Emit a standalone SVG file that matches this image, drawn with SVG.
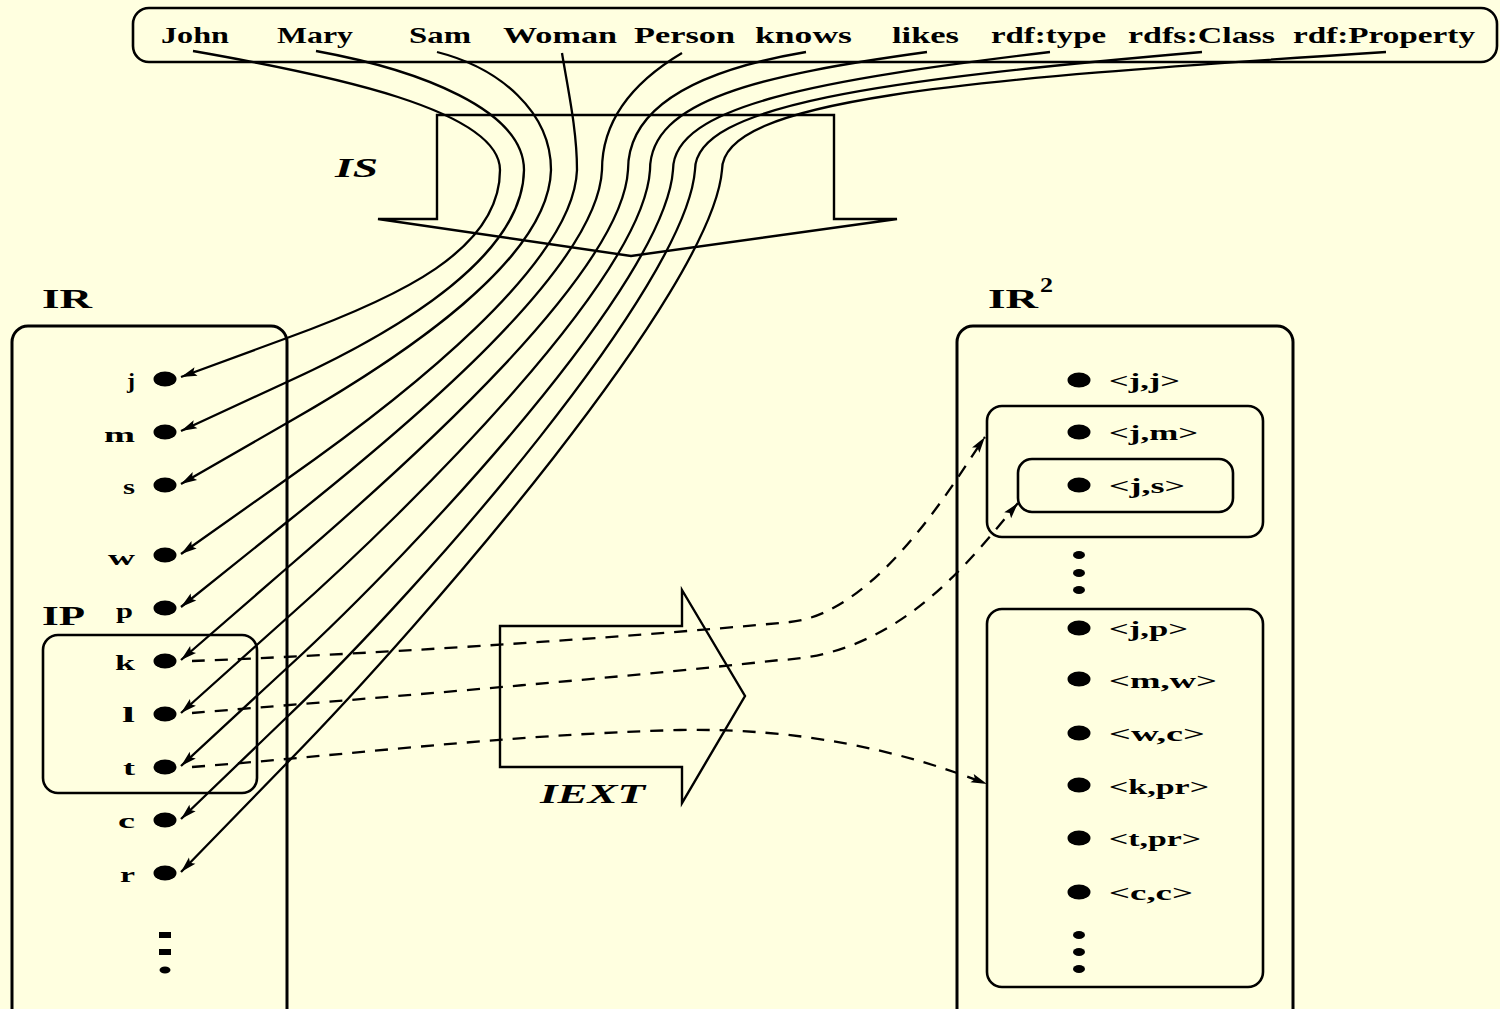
<svg xmlns="http://www.w3.org/2000/svg" width="1500" height="1009" viewBox="0 0 1500 1009">
<defs>
<style>
.bg{fill:#ffffe0}
.box{fill:none;stroke:#000;stroke-width:2.6}
.obox{fill:none;stroke:#000;stroke-width:3}
.blk{fill:none;stroke:#000;stroke-width:2.4;stroke-linejoin:miter}
.t{font-family:"Liberation Serif","Times New Roman",serif;font-weight:bold;fill:#000}
.top{font-size:23px}
.big{font-size:27px}
.it{font-style:italic;font-size:27px}
.nl{font-size:22px;text-anchor:end}
.pl{font-size:22px}
.dot{fill:#000}
.cur{fill:none;stroke:#000;stroke-width:2.3;marker-end:url(#ah)}
.dash{fill:none;stroke:#000;stroke-width:2.3;stroke-dasharray:13 10;marker-end:url(#ah)}
</style>
<marker id="ah" markerUnits="userSpaceOnUse" viewBox="-18 -6 20 12" markerWidth="20" markerHeight="12" refX="0" refY="0" orient="auto">
<path d="M0,0 L-16,-4.5 L-13,0 L-16,4.5 Z" fill="#000"/>
</marker>
</defs>
<rect class="bg" x="0" y="0" width="1500" height="1009"/>

<g id="names">
<rect class="box" x="133" y="8" width="1364" height="54" rx="16"/>
<text class="t top" x="161" y="43" textLength="68" lengthAdjust="spacingAndGlyphs">John</text>
<text class="t top" x="277" y="43" textLength="76" lengthAdjust="spacingAndGlyphs">Mary</text>
<text class="t top" x="409" y="43" textLength="62" lengthAdjust="spacingAndGlyphs">Sam</text>
<text class="t top" x="503" y="43" textLength="114" lengthAdjust="spacingAndGlyphs">Woman</text>
<text class="t top" x="634" y="43" textLength="101" lengthAdjust="spacingAndGlyphs">Person</text>
<text class="t top" x="755" y="43" textLength="97" lengthAdjust="spacingAndGlyphs">knows</text>
<text class="t top" x="892" y="43" textLength="67" lengthAdjust="spacingAndGlyphs">likes</text>
<text class="t top" x="991" y="43" textLength="115" lengthAdjust="spacingAndGlyphs">rdf:type</text>
<text class="t top" x="1128" y="43" textLength="147" lengthAdjust="spacingAndGlyphs">rdfs:Class</text>
<text class="t top" x="1293" y="43" textLength="182" lengthAdjust="spacingAndGlyphs">rdf:Property</text>
</g>

<g id="IS">
<polygon class="blk" points="437,115 834,115 834,219 897,219 631,256 378,219 437,219"/>
<text class="t it" x="335" y="177" textLength="43" lengthAdjust="spacingAndGlyphs">IS</text>
</g>

<g id="IEXT">
<polygon class="blk" points="500,626 682,626 682,590 745,696 682,803 682,767 500,767"/>
<text class="t it" x="540" y="803" textLength="105" lengthAdjust="spacingAndGlyphs">IEXT</text>
</g>

<g id="IR">
<text class="t big" x="42" y="308" textLength="50" lengthAdjust="spacingAndGlyphs">IR</text>
<rect class="obox" x="12" y="326" width="275" height="700" rx="16"/>
</g>

<g id="IP">
<text class="t big" x="42" y="625" textLength="43" lengthAdjust="spacingAndGlyphs">IP</text>
<rect class="box" x="43" y="635" width="214" height="158" rx="15"/>
</g>

<g id="node-j"><ellipse class="dot" cx="165" cy="379" rx="11.5" ry="7.5"/><text class="t nl" x="135" y="388" textLength="8" lengthAdjust="spacingAndGlyphs">j</text></g>
<g id="node-m"><ellipse class="dot" cx="165" cy="432" rx="11.5" ry="7.5"/><text class="t nl" x="135" y="442" textLength="31" lengthAdjust="spacingAndGlyphs">m</text></g>
<g id="node-s"><ellipse class="dot" cx="165" cy="485" rx="11.5" ry="7.5"/><text class="t nl" x="135" y="494" textLength="12" lengthAdjust="spacingAndGlyphs">s</text></g>
<g id="node-w"><ellipse class="dot" cx="165" cy="555" rx="11.5" ry="7.5"/><text class="t nl" x="135" y="565" textLength="27" lengthAdjust="spacingAndGlyphs">w</text></g>
<g id="node-p"><ellipse class="dot" cx="165" cy="608" rx="11.5" ry="7.5"/><text class="t nl" x="133" y="618" textLength="17" lengthAdjust="spacingAndGlyphs">p</text></g>
<g id="node-k"><ellipse class="dot" cx="165" cy="661" rx="11.5" ry="7.5"/><text class="t nl" x="135" y="670" textLength="20" lengthAdjust="spacingAndGlyphs">k</text></g>
<g id="node-l"><ellipse class="dot" cx="165" cy="714" rx="11.5" ry="7.5"/><text class="t nl" x="135" y="722" textLength="13" lengthAdjust="spacingAndGlyphs">l</text></g>
<g id="node-t"><ellipse class="dot" cx="165" cy="767" rx="11.5" ry="7.5"/><text class="t nl" x="135" y="775" textLength="12" lengthAdjust="spacingAndGlyphs">t</text></g>
<g id="node-c"><ellipse class="dot" cx="165" cy="820" rx="11.5" ry="7.5"/><text class="t nl" x="135" y="828" textLength="17" lengthAdjust="spacingAndGlyphs">c</text></g>
<g id="node-r"><ellipse class="dot" cx="165" cy="873" rx="11.5" ry="7.5"/><text class="t nl" x="135" y="882" textLength="15" lengthAdjust="spacingAndGlyphs">r</text></g>
<g id="IR-more">
<rect class="dot" x="159" y="932" width="12" height="6"/>
<rect class="dot" x="159" y="949" width="12" height="6"/>
<ellipse class="dot" cx="165" cy="970" rx="5.5" ry="3.5"/>
</g>

<g id="IR2">
<text class="t big" x="988" y="308" textLength="50" lengthAdjust="spacingAndGlyphs">IR</text>
<text class="t" style="font-size:21px" x="1040" y="292" textLength="13" lengthAdjust="spacingAndGlyphs">2</text>
<rect class="obox" x="957" y="326" width="336" height="700" rx="16"/>
</g>
<g id="IEXT-knows"><rect class="box" x="987" y="406" width="276" height="131" rx="15"/></g>
<g id="IEXT-likes"><rect class="box" x="1018" y="459" width="215" height="53" rx="14"/></g>
<g id="IEXT-type"><rect class="box" x="987" y="609" width="276" height="378" rx="15"/></g>

<g id="pair-jj"><ellipse class="dot" cx="1079" cy="380" rx="11.5" ry="7.5"/><text class="t pl" x="1109" y="388" textLength="71" lengthAdjust="spacingAndGlyphs">&lt;j,j&gt;</text></g>
<g id="pair-jm"><ellipse class="dot" cx="1079" cy="432" rx="11.5" ry="7.5"/><text class="t pl" x="1109" y="440" textLength="89" lengthAdjust="spacingAndGlyphs">&lt;j,m&gt;</text></g>
<g id="pair-js"><ellipse class="dot" cx="1079" cy="485" rx="11.5" ry="7.5"/><text class="t pl" x="1109" y="493" textLength="76" lengthAdjust="spacingAndGlyphs">&lt;j,s&gt;</text></g>
<g id="IR2-more1">
<ellipse class="dot" cx="1079" cy="555" rx="6" ry="4"/>
<ellipse class="dot" cx="1079" cy="573" rx="6" ry="4"/>
<ellipse class="dot" cx="1079" cy="590" rx="6" ry="4"/>
</g>
<g id="pair-jp"><ellipse class="dot" cx="1079" cy="628" rx="11.5" ry="7.5"/><text class="t pl" x="1109" y="636" textLength="79" lengthAdjust="spacingAndGlyphs">&lt;j,p&gt;</text></g>
<g id="pair-mw"><ellipse class="dot" cx="1079" cy="679" rx="11.5" ry="7.5"/><text class="t pl" x="1109" y="688" textLength="108" lengthAdjust="spacingAndGlyphs">&lt;m,w&gt;</text></g>
<g id="pair-wc"><ellipse class="dot" cx="1079" cy="733" rx="11.5" ry="7.5"/><text class="t pl" x="1109" y="741" textLength="96" lengthAdjust="spacingAndGlyphs">&lt;w,c&gt;</text></g>
<g id="pair-kpr"><ellipse class="dot" cx="1079" cy="785" rx="11.5" ry="7.5"/><text class="t pl" x="1109" y="794" textLength="100" lengthAdjust="spacingAndGlyphs">&lt;k,pr&gt;</text></g>
<g id="pair-tpr"><ellipse class="dot" cx="1079" cy="838" rx="11.5" ry="7.5"/><text class="t pl" x="1109" y="846" textLength="92" lengthAdjust="spacingAndGlyphs">&lt;t,pr&gt;</text></g>
<g id="pair-cc"><ellipse class="dot" cx="1079" cy="892" rx="11.5" ry="7.5"/><text class="t pl" x="1109" y="900" textLength="84" lengthAdjust="spacingAndGlyphs">&lt;c,c&gt;</text></g>
<g id="IR2-more2">
<ellipse class="dot" cx="1079" cy="935" rx="6" ry="4"/>
<ellipse class="dot" cx="1079" cy="952" rx="6" ry="4"/>
<ellipse class="dot" cx="1079" cy="969" rx="6" ry="4"/>
</g>

<g id="connectors">
<path class="cur" d="M193,51 C330,75 500,110 500,170 C500,250 399.7,296.9 287,338 L181,377"/>
<path class="cur" d="M316,51 C420,70 524,110 524,170 C522.9,254.4 404.2,328.4 287,382 L181,431"/>
<path class="cur" d="M437,52 C500,68 551,112 551,170 C548.8,258.9 406.7,354.8 287,423 L181,484"/>
<path class="cur" d="M562,53 C568,90 577,130 577,170 C573.7,263.3 407.1,394.8 287,479 L181,554"/>
<path class="cur" d="M682,53 C640,78 602,115 602,170 C597.6,267.8 408.8,425.2 287,522 L181,607"/>
<path class="cur" d="M806,52 C700,70 628,105 628,170 C622.4,272.2 411.6,460.8 287,568 L181,660"/>
<path class="cur" d="M927,52 C760,75 650,100 650,170 C643.3,276.7 416.6,502.9 287,618 L181,713"/>
<path class="cur" d="M1050,52 C820,80 673,105 673,170 C665.2,281.1 421.3,545 287,668 L181,766"/>
<path class="cur" d="M1202,52 C880,80 695,105 695,170 C686.1,285.6 425.4,585.1 287,717 L181,819"/>
<path class="cur" d="M1386,52 C950,80 722,100 722,170 C712,290 427,620.2 287,763 L181,872"/>
<path class="dash" d="M192,661 C350,655 600,640 790,622 C880,613 960,472 985,437"/>
<path class="dash" d="M192,713 C350,700 600,680 780,660 C900,655 970,560 1018,503"/>
<path class="dash" d="M192,767 C350,755 500,735 680,730 C800,728 900,750 987,784"/>
</g>
</svg>
